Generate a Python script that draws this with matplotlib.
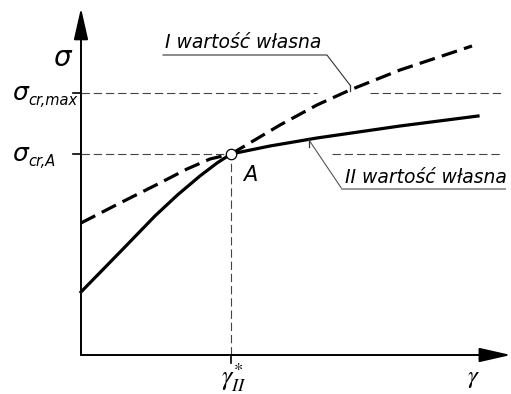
import matplotlib
matplotlib.use("Agg")
import matplotlib.pyplot as plt
from matplotlib.patches import ArrowStyle

# values (gamma, sigma in arbitrary units)
gamma_I_left = [0.0, 0.26, 0.513, 0.707, 0.86, 1.0]
sigma_I_left = [1.32, 1.52, 1.71, 1.86, 1.96, 2.01]
gamma_I_right = [1.0, 1.08, 1.327, 1.573, 1.793, 2.127, 2.607]
sigma_I_right = [2.01, 2.08, 2.30, 2.50, 2.65, 2.85, 3.09]

gamma_II_left = [0.0, 0.293, 0.493, 0.643, 0.793, 0.907, 1.0]
sigma_II_left = [0.63, 1.08, 1.39, 1.60, 1.79, 1.92, 2.01]
gamma_II_right = [1.0, 1.26, 1.573, 2.127, 2.647]
sigma_II_right = [2.01, 2.09, 2.17, 2.29, 2.39]

gamma_star = 1.0
sigma_cr_A = 2.01
sigma_cr_max = 2.62

label_I = "I wartość własna"
label_II = "II wartość własna"

fig = plt.figure(figsize=(5.11, 3.94), dpi=100)
ax = fig.add_axes([0, 0, 1, 1])
ax.set_xlim(-0.54, 2.867)
ax.set_ylim(-0.39, 3.55)
ax.axis("off")

# axes with arrows
head = ArrowStyle("-|>", head_length=0.97, head_width=0.22)
ax.annotate("", xy=(2.866, 0), xytext=(0, 0),
            arrowprops=dict(arrowstyle=head, lw=1.4, color="k", mutation_scale=20,
                            shrinkA=0, shrinkB=0))
ax.annotate("", xy=(0, 3.47), xytext=(0, 0),
            arrowprops=dict(arrowstyle=head, lw=1.4, color="k", mutation_scale=20,
                            shrinkA=0, shrinkB=0))

# helper lines
thin = dict(color="#444444", lw=0.8, linestyle=(0, (7.5, 3.5)))
ax.plot([0, 1.573], [sigma_cr_max] * 2, **thin)
ax.plot([1.927, 2.807], [sigma_cr_max] * 2, **thin)
ax.plot([0, gamma_star], [sigma_cr_A] * 2, **thin)
ax.plot([1.673, 2.807], [sigma_cr_A] * 2, **thin)
ax.plot([gamma_star] * 2, [0, sigma_cr_A], **thin)

# tick marks
ax.plot([-0.053, 0], [sigma_cr_max] * 2, color="k", lw=1.2)
ax.plot([-0.053, 0], [sigma_cr_A] * 2, color="k", lw=1.2)
ax.plot([gamma_star] * 2, [-0.08, 0], color="k", lw=1.2)

# curves
dash = (0, (5, 2.3))
ax.plot(gamma_I_left, sigma_I_left, color="k", lw=2.3, linestyle=dash)
ax.plot(gamma_I_right, sigma_I_right, color="k", lw=2.3, linestyle=dash)
ax.plot(gamma_II_left, sigma_II_left, color="k", lw=2.3)
ax.plot(gamma_II_right, sigma_II_right, color="k", lw=2.3)

ax.plot([gamma_star], [sigma_cr_A], marker="o", ms=7.5, mfc="white", mec="k",
        mew=0.9, zorder=5)

# leaders
ax.plot([0.547, 1.64, 1.793], [3.0, 3.0, 2.70], color="#333333", lw=0.8)
ax.plot([1.793, 1.793], [2.70, 2.64], color="#333333", lw=0.9)
ax.plot([2.827, 1.74, 1.52], [1.66, 1.66, 2.15], color="#555555", lw=0.8)
ax.plot([2.827, 1.74], [1.66, 1.66], color="#999999", lw=1.4)
ax.plot([1.52, 1.52], [2.15, 2.08], color="#333333", lw=0.9)

# texts
txt = dict(family="DejaVu Sans", style="italic", fontsize=13.5)
ax.text(0.56, 3.07, label_I, va="baseline", ha="left", **txt)
ax.text(1.76, 1.72, label_II, va="baseline", ha="left", **txt)
ax.text(1.08, 1.80, "A", va="center", ha="left", family="DejaVu Sans",
        style="italic", fontsize=15)

ax.text(-0.12, 2.97, r"$\sigma$", ha="center", va="center", fontsize=20,
        math_fontfamily="dejavusans")
sub = dict(family="DejaVu Sans", style="italic", fontsize=10.5, va="baseline",
           ha="left")
ax.text(-0.46, sigma_cr_max, r"$\sigma$", ha="left", va="center", fontsize=18,
        math_fontfamily="dejavusans")
ax.text(-0.35, 2.50, "cr,max", **sub)
ax.text(-0.46, sigma_cr_A, r"$\sigma$", ha="left", va="center", fontsize=18,
        math_fontfamily="dejavusans")
ax.text(-0.35, 1.89, "cr,A", **sub)

ax.text(1.02, -0.06, r"$\gamma^{*}_{II}$", ha="center", va="top", fontsize=19,
        math_fontfamily="stix")
ax.text(2.62, -0.11, r"$\gamma$", ha="center", va="top", fontsize=18,
        math_fontfamily="stix")

fig.savefig("out.png", dpi=100)
